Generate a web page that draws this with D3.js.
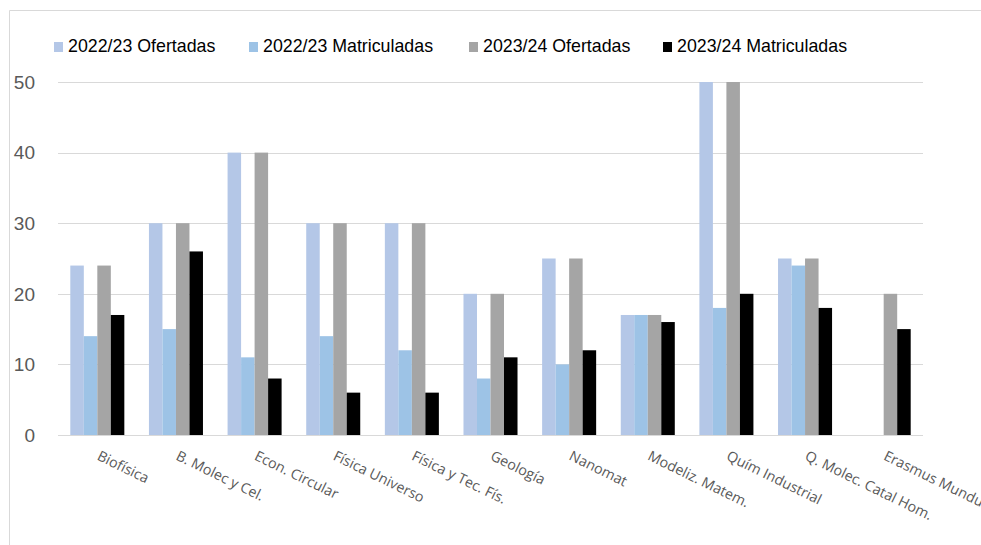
<!DOCTYPE html>
<html>
<head>
<meta charset="utf-8">
<script src="https://cdn.jsdelivr.net/npm/d3@7"></script>
<style>
  html, body { margin: 0; padding: 0; background: #fff; }
  svg { display: block; }
</style>
</head>
<body>
<svg id="chart" width="981" height="545"></svg>
<script>
const categories = ["Biofísica", "B. Molec y Cel.", "Econ. Circular", "Física Universo", "Física y Tec. Fís.", "Geología", "Nanomat", "Modeliz. Matem.", "Quím Industrial", "Q. Molec. Catal Hom.", "Erasmus Mundus"];
const seriesNames = ["2022/23 Ofertadas", "2022/23 Matriculadas", "2023/24 Ofertadas", "2023/24 Matriculadas"];
const ofertadas2223 = [24, 30, 40, 30, 30, 20, 25, 17, 50, 25, null];
const matriculadas2223 = [14, 15, 11, 14, 12, 8, 10, 17, 18, 24, null];
const ofertadas2324 = [24, 30, 40, 30, 30, 20, 25, 17, 50, 25, 20];
const matriculadas2324 = [17, 26, 8, 6, 6, 11, 12, 16, 20, 18, 15];
const yTicks = [0, 10, 20, 30, 40, 50];
const colors = ["#B4C7E7", "#9DC3E6", "#A5A5A5", "#000000"];

const seriesValues = [ofertadas2223, matriculadas2223, ofertadas2324, matriculadas2324];

const svg = d3.select("#chart");

// chart frame
svg.append("path")
  .attr("d", "M9.5,545 V10.5 H981")
  .attr("fill", "none")
  .attr("stroke", "#D9D9D9")
  .attr("stroke-width", 1);

const x = d3.scaleBand().domain(categories).range([58, 923]).padding(0);
const bw = x.bandwidth();
const gw = bw * 0.687;
const xInner = d3.scaleBand().domain(seriesNames).range([(bw - gw) / 2, (bw + gw) / 2]).padding(0);
const y = d3.scaleLinear().domain([0, 50]).range([435, 82]);

// gridlines
svg.append("g")
  .selectAll("line")
  .data(yTicks)
  .join("line")
  .attr("x1", 58).attr("x2", 923)
  .attr("y1", d => Math.round(y(d)) + 0.5)
  .attr("y2", d => Math.round(y(d)) + 0.5)
  .attr("stroke", "#D9D9D9")
  .attr("stroke-width", 1.2);

// y labels
svg.append("g")
  .selectAll("text")
  .data(yTicks)
  .join("text")
  .attr("x", 35)
  .attr("y", d => y(d))
  .attr("dy", "0.36em")
  .attr("text-anchor", "end")
  .attr("font-family", "Liberation Sans, Arial, sans-serif")
  .attr("font-size", 19)
  .attr("fill", "#595959")
  .text(d => d);

// bars
const groups = svg.append("g")
  .selectAll("g")
  .data(seriesNames.map((s, i) => ({ name: s, i, values: seriesValues[i] })))
  .join("g")
  .attr("fill", d => colors[d.i]);

groups.selectAll("rect")
  .data(d => d.values.map((v, j) => ({ v, cat: categories[j], s: d.name })).filter(e => e.v != null))
  .join("rect")
  .attr("x", e => x(e.cat) + xInner(e.s))
  .attr("width", xInner.bandwidth())
  .attr("y", e => y(e.v))
  .attr("height", e => y(0) - y(e.v));

// x labels
svg.append("g")
  .selectAll("text")
  .data(categories)
  .join("text")
  .attr("transform", d => `translate(${x(d) + bw / 2 + 4},${449}) rotate(26)`)
  .attr("dy", "0.8em")
  .attr("text-anchor", "start")
  .attr("font-family", "Open Sans, sans-serif")
  .attr("font-size", 14.3)
  .attr("fill", "#595959")
  .text(d => d);

// legend
const legendX = [54, 249, 469, 663];
const legend = svg.append("g")
  .selectAll("g")
  .data(seriesNames)
  .join("g")
  .attr("transform", (d, i) => `translate(${legendX[i]},42)`);
legend.append("rect")
  .attr("width", 9).attr("height", 10)
  .attr("fill", (d, i) => colors[i]);
legend.append("text")
  .attr("x", 14)
  .attr("y", 10)
  .attr("font-family", "Liberation Sans, Arial, sans-serif")
  .attr("font-size", 17.8)
  .attr("fill", "#000")
  .text(d => d);
</script>
</body>
</html>
